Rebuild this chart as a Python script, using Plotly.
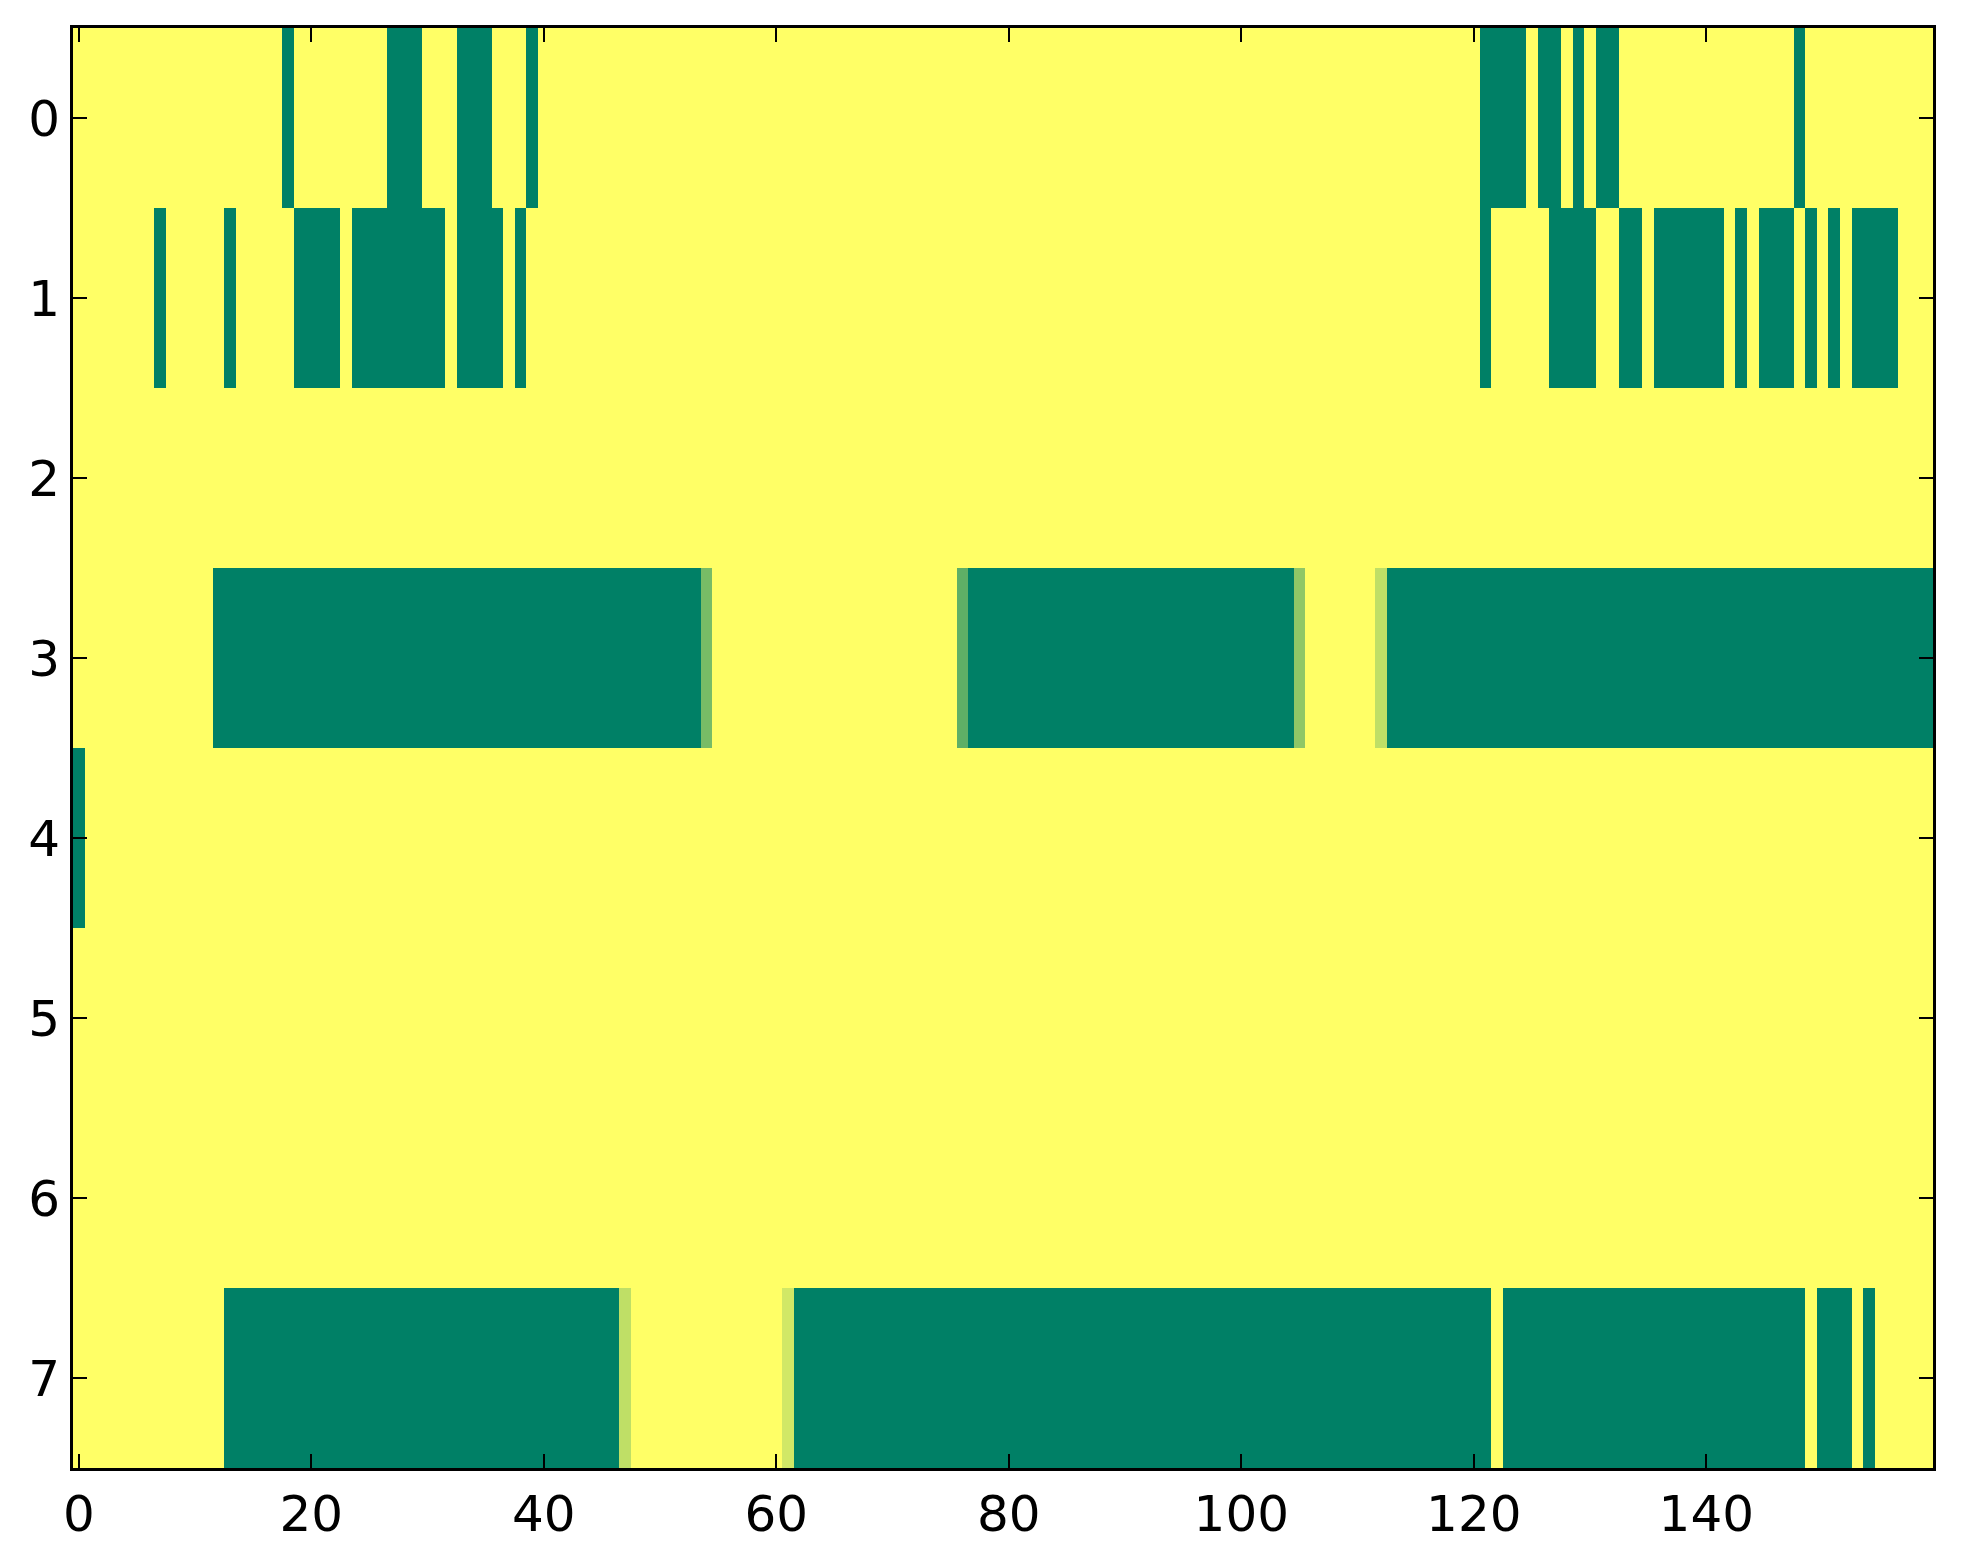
import numpy as np
import plotly.graph_objects as go

n_rows = 8
n_cols = 160

# green (0) runs per row, as (first column, last column) inclusive
green_runs = {
    0: [(18, 18), (27, 29), (33, 35), (39, 39), (121, 124), (126, 127),
        (129, 129), (131, 132), (148, 148)],
    1: [(7, 7), (13, 13), (19, 22), (24, 31), (33, 36), (38, 38), (121, 121),
        (127, 130), (133, 134), (136, 141), (143, 143), (145, 147), (149, 149),
        (151, 151), (153, 156)],
    2: [],
    3: [(12, 53), (77, 104), (113, 159)],
    4: [(0, 0)],
    5: [],
    6: [],
    7: [(13, 46), (62, 121), (123, 148), (150, 152), (154, 154)],
}

# cells with in-between values: (row, column, value)
partial_cells = [
    (3, 54, 0.47),
    (3, 76, 0.37),
    (3, 105, 0.56),
    (3, 112, 0.75),
    (7, 47, 0.75),
    (7, 61, 0.82),
]

z = np.ones((n_rows, n_cols))
for r, runs in green_runs.items():
    for a, b in runs:
        z[r, a:b + 1] = 0.0
for r, c, v in partial_cells:
    z[r, c] = v

summer = [[0.0, "rgb(0,128,102)"], [1.0, "rgb(255,255,102)"]]

fig = go.Figure(go.Heatmap(
    z=z,
    x=list(range(n_cols)),
    y=list(range(n_rows)),
    colorscale=summer,
    zmin=0, zmax=1,
    showscale=False,
    hoverinfo="skip",
))

axis_style = dict(
    showline=True, linecolor="black", linewidth=3, mirror="allticks",
    ticks="inside", ticklen=14, tickwidth=2, tickcolor="black",
    showgrid=False, zeroline=False,
    tickfont=dict(family="DejaVu Sans", size=50, color="black"),
)

fig.update_xaxes(range=[-0.5, n_cols - 0.5], tickmode="array",
                 tickvals=list(range(0, 141, 20)), **axis_style)
fig.update_yaxes(range=[n_rows - 0.5, -0.5], tickmode="array",
                 tickvals=list(range(n_rows)), **axis_style)

fig.update_layout(
    width=1963, height=1564, autosize=False,
    margin=dict(l=73, r=30, t=28, b=96),
    paper_bgcolor="white", plot_bgcolor="white",
)

fig.write_html("out.html", config={"displayModeBar": False},
               post_script="document.body.style.margin='0';")
